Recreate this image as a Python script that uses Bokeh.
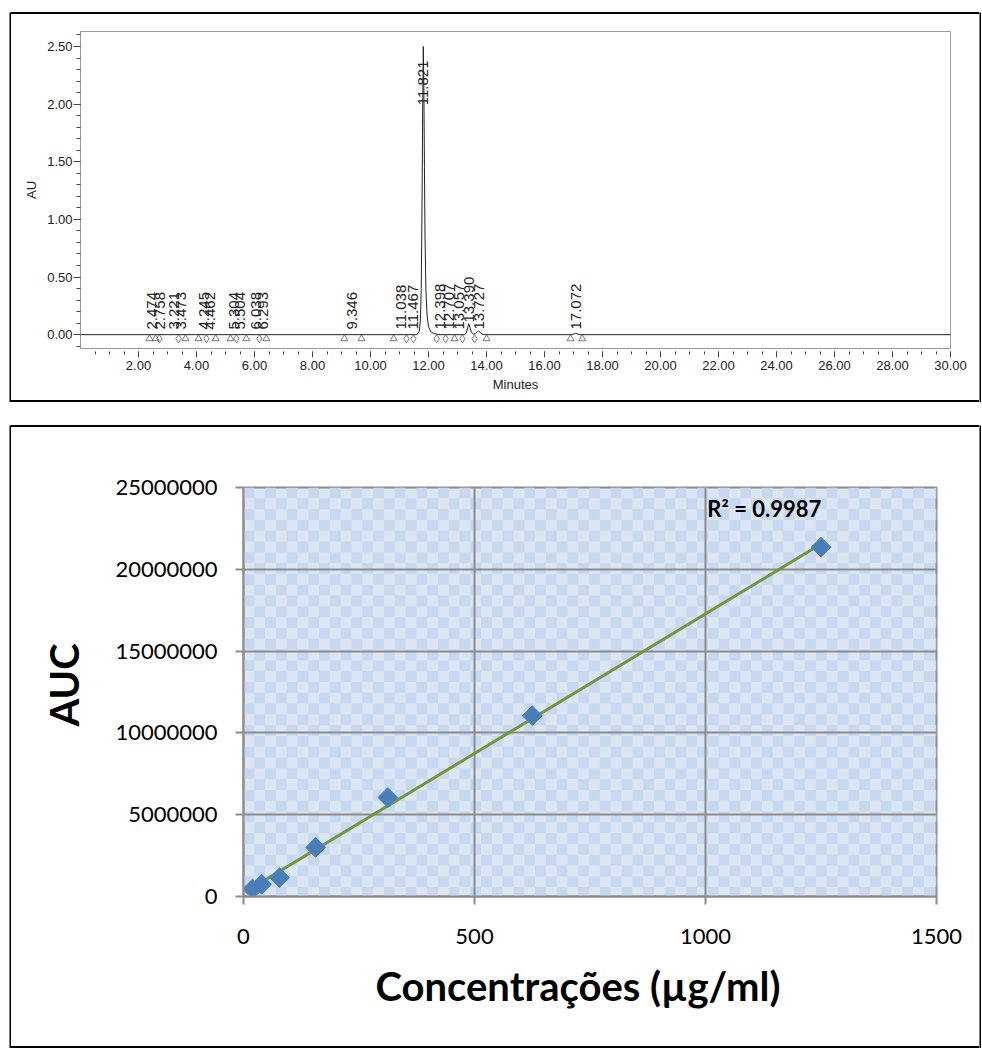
import numpy as np
from bokeh.plotting import figure
from bokeh.layouts import column, row
from bokeh.models import FixedTicker, Label, Range1d, NumeralTickFormatter, Plot, Spacer, Title
from bokeh.core.properties import value
from bokeh.embed import file_html
from bokeh.resources import INLINE

# ---------------- chromatogram ----------------
trace_min = [0.0, 11.60, 11.68, 11.72, 11.75, 11.78, 11.80, 11.821, 11.84, 11.86, 11.88,
             11.91, 11.95, 12.00, 12.08, 12.20, 12.40, 13.25, 13.31, 13.35, 13.39, 13.43,
             13.48, 13.55, 13.62, 13.68, 13.727, 13.78, 13.85, 13.95, 16.95, 17.072, 17.20, 30.0]
trace_au = [0.0, 0.0, 0.03, 0.12, 0.40, 1.20, 2.00, 2.50, 2.15, 1.45, 0.85,
            0.40, 0.17, 0.07, 0.025, 0.008, 0.0, 0.0, 0.02, 0.06, 0.095, 0.06,
            0.02, 0.005, 0.01, 0.025, 0.03, 0.02, 0.005, 0.0, 0.0, 0.012, 0.0, 0.0]

peak_rt = [2.474, 2.758, 3.221, 3.473, 4.245, 4.462, 5.304, 5.504, 6.038, 6.293,
           9.346, 11.038, 11.467, 11.821, 12.398, 12.707, 13.057, 13.390, 13.727, 17.072]
peak_au = [0.004, 0.004, 0.004, 0.004, 0.003, 0.003, 0.003, 0.003, 0.003, 0.003,
           0.004, 0.004, 0.006, 2.50, 0.008, 0.004, 0.003, 0.095, 0.030, 0.012]

# integration event marks (start/end and drop lines)
event_start_end = [2.38, 2.59, 3.62, 4.07, 4.66, 5.17, 5.72, 6.41, 9.10, 9.69,
                   10.80, 12.90, 14.00, 16.90, 17.30]
event_drop = [2.72, 3.38, 4.34, 5.38, 6.17, 11.24, 11.48, 12.28, 12.59, 13.17, 13.59]

minutes_ticks = [2.0, 4.0, 6.0, 8.0, 10.0, 12.0, 14.0, 16.0, 18.0, 20.0, 22.0, 24.0, 26.0, 28.0, 30.0]
au_ticks = [0.0, 0.5, 1.0, 1.5, 2.0, 2.5]

# ---------------- calibration curve ----------------
conc = [19.53125, 39.0625, 78.125, 156.25, 312.5, 625.0, 1250.0]
auc = [450000, 750000, 1150000, 3000000, 6050000, 11050000, 21350000]
r2_text = "R\u00b2 = 0.9987"
conc_ticks = [0, 500, 1000, 1500]
auc_ticks = [0, 5000000, 10000000, 15000000, 20000000, 25000000]

ARIAL = "Liberation Sans"
CAL = "Lato"


def vbar(h):
    """Vertical black strip for the panel borders."""
    return Plot(width=2, height=h, x_range=Range1d(0, 1), y_range=Range1d(0, 1),
                min_border=0, toolbar_location=None, output_backend="svg", frame_align=False,
                border_fill_color="black", background_fill_color="black", outline_line_color=None)


def hbar(w):
    """Horizontal black strip for the panel borders."""
    return Spacer(width=w, height=2, styles={"background-color": "black"})


def boxed(p, w, h):
    return row(vbar(h + 4),
               column(hbar(w), p, hbar(w), spacing=0),
               vbar(h + 4), spacing=0)


# ===== top panel =====
p1 = figure(width=968, height=386, x_range=Range1d(0, 30), y_range=Range1d(-0.12, 2.63),
            output_backend="svg", toolbar_location=None, frame_align=False,
            min_border_left=69, min_border_right=29, min_border_top=17, min_border_bottom=52)
p1.grid.visible = False
p1.outline_line_color = "#9a9a9a"
p1.background_fill_color = "white"
p1.border_fill_color = "white"

xa = p1.xaxis[0]
xa.ticker = FixedTicker(ticks=minutes_ticks, minor_ticks=list(np.arange(0.5, 30.01, 0.5)))
xa.formatter = NumeralTickFormatter(format="0.00")
xa.axis_line_color = None
xa.major_tick_in = -3
xa.major_tick_out = 9
xa.minor_tick_in = -3
xa.minor_tick_out = 6
xa.major_tick_line_color = "#444444"
xa.minor_tick_line_color = "#444444"
xa.major_label_standoff = 3
xa.major_label_text_font = ARIAL
xa.major_label_text_font_size = "13px"
xa.major_label_text_color = "#222222"
xa.axis_label = "Minutes"
xa.axis_label_text_font = ARIAL
xa.axis_label_text_font_size = "13px"
xa.axis_label_text_font_style = "normal"
xa.axis_label_text_color = "#222222"
xa.axis_label_standoff = 4

ya = p1.yaxis[0]
ya.ticker = FixedTicker(ticks=au_ticks, minor_ticks=list(np.arange(-0.1, 2.61, 0.1)))
ya.formatter = NumeralTickFormatter(format="0.00")
ya.axis_line_color = "#9a9a9a"
ya.major_tick_in = 0
ya.major_tick_out = 7
ya.minor_tick_in = 0
ya.minor_tick_out = 4
ya.major_tick_line_color = "#444444"
ya.minor_tick_line_color = "#444444"
ya.major_label_standoff = 1
ya.major_label_text_font = ARIAL
ya.major_label_text_font_size = "13px"
ya.major_label_text_color = "#222222"
ya.axis_label = "AU"
ya.axis_label_text_font = ARIAL
ya.axis_label_text_font_size = "13px"
ya.axis_label_text_font_style = "normal"
ya.axis_label_text_color = "#222222"
ya.axis_label_standoff = 5

p1.line(trace_min, trace_au, line_color="#222222", line_width=1)

mark_au = -0.035
p1.scatter(event_start_end, [mark_au] * len(event_start_end), marker="triangle", size=7,
           fill_color=None, line_color="#555555", line_width=0.8)
p1.scatter(event_drop, [mark_au] * len(event_drop), marker="diamond", size=8,
           fill_color=None, line_color="#555555", line_width=0.8)

label_au = np.clip(np.array(peak_au) + 0.01, 0.045, 1.99)
p1.text(x=peak_rt, y=list(label_au), text=[f"{t:.3f}" for t in peak_rt], angle=np.pi / 2,
        text_align="left", text_baseline="middle", text_font=value(ARIAL),
        text_font_size="15px", text_color="#222222")

# ===== bottom panel =====
X0, X1, Y0, Y1 = 0, 1500, 0, 25000000
p2 = figure(width=968, height=619, x_range=Range1d(X0, X1), y_range=Range1d(Y0, Y1),
            output_backend="svg", toolbar_location=None, frame_align=False,
            min_border_left=232, min_border_right=43, min_border_top=60, min_border_bottom=150)
p2.background_fill_color = "#dce6f2"
p2.border_fill_color = "white"
p2.outline_line_color = "#8c8c8c"
p2.outline_line_width = 2

# checkerboard fill of the plot area
cell_px = 10.8
frame_w, frame_h = 693, 409
dx = (X1 - X0) * cell_px / frame_w
dy = (Y1 - Y0) * cell_px / frame_h
cl, cr, ct, cb = [], [], [], []
for i in range(int(np.ceil(frame_w / cell_px))):
    for j in range(int(np.ceil(frame_h / cell_px))):
        if (i + j) % 2 == 0:
            cl.append(X0 + i * dx)
            cr.append(min(X0 + (i + 1) * dx, X1))
            ct.append(Y1 - j * dy)
            cb.append(max(Y1 - (j + 1) * dy, Y0))
p2.quad(left=cl, right=cr, top=ct, bottom=cb, fill_color="#c6d9f1", line_color=None, level="image")

p2.xgrid.ticker = FixedTicker(ticks=conc_ticks)
p2.ygrid.ticker = FixedTicker(ticks=auc_ticks)
p2.grid.grid_line_color = "#8c8c8c"
p2.grid.grid_line_width = 2

for ax in (p2.xaxis[0], p2.yaxis[0]):
    ax.axis_line_color = "#8c8c8c"
    ax.axis_line_width = 2
    ax.major_tick_line_color = "#8c8c8c"
    ax.major_tick_line_width = 2
    ax.major_tick_in = 0
    ax.major_tick_out = 8
    ax.minor_tick_line_color = None
    ax.major_label_text_font = CAL
    ax.major_label_text_font_size = "22px"
    ax.major_label_text_color = "black"

p2.xaxis[0].ticker = FixedTicker(ticks=conc_ticks)
p2.yaxis[0].ticker = FixedTicker(ticks=auc_ticks)
p2.yaxis[0].formatter = NumeralTickFormatter(format="0")
p2.xaxis[0].major_label_standoff = 24
p2.yaxis[0].major_label_standoff = 18

# axis titles
p2.add_layout(Title(text="Concentrações (µg/ml)", align="left", offset=132, standoff=27,
                    text_font=CAL, text_font_size="40px", text_font_style="bold",
                    text_color="black"), "below")
p2.add_layout(Title(text="AUC", align="left", offset=170, standoff=50,
                    text_font=CAL, text_font_size="40px", text_font_style="bold",
                    text_color="black"), "left")

slope, intercept = np.polyfit(conc, auc, 1)
fx = [min(conc), max(conc)]
p2.line(fx, [slope * v + intercept for v in fx], line_color="#77933c", line_width=3)
p2.scatter(conc, auc, marker="square", angle=np.pi / 4, size=14,
           fill_color="#4a7ebb", line_color="#4a7ebb")

p2.add_layout(Label(x=1004, y=23700000, text=r2_text, text_font=CAL, text_font_size="22px",
                    text_font_style="bold", text_color="black", text_baseline="middle"))

page = column(
    Spacer(width=10, height=12),
    row(Spacer(width=9, height=10), boxed(p1, 968, 386), spacing=0),
    Spacer(width=10, height=23),
    row(Spacer(width=9, height=10), boxed(p2, 968, 619), spacing=0),
    spacing=0,
)
open("out.html", "w").write(file_html(page, INLINE))
